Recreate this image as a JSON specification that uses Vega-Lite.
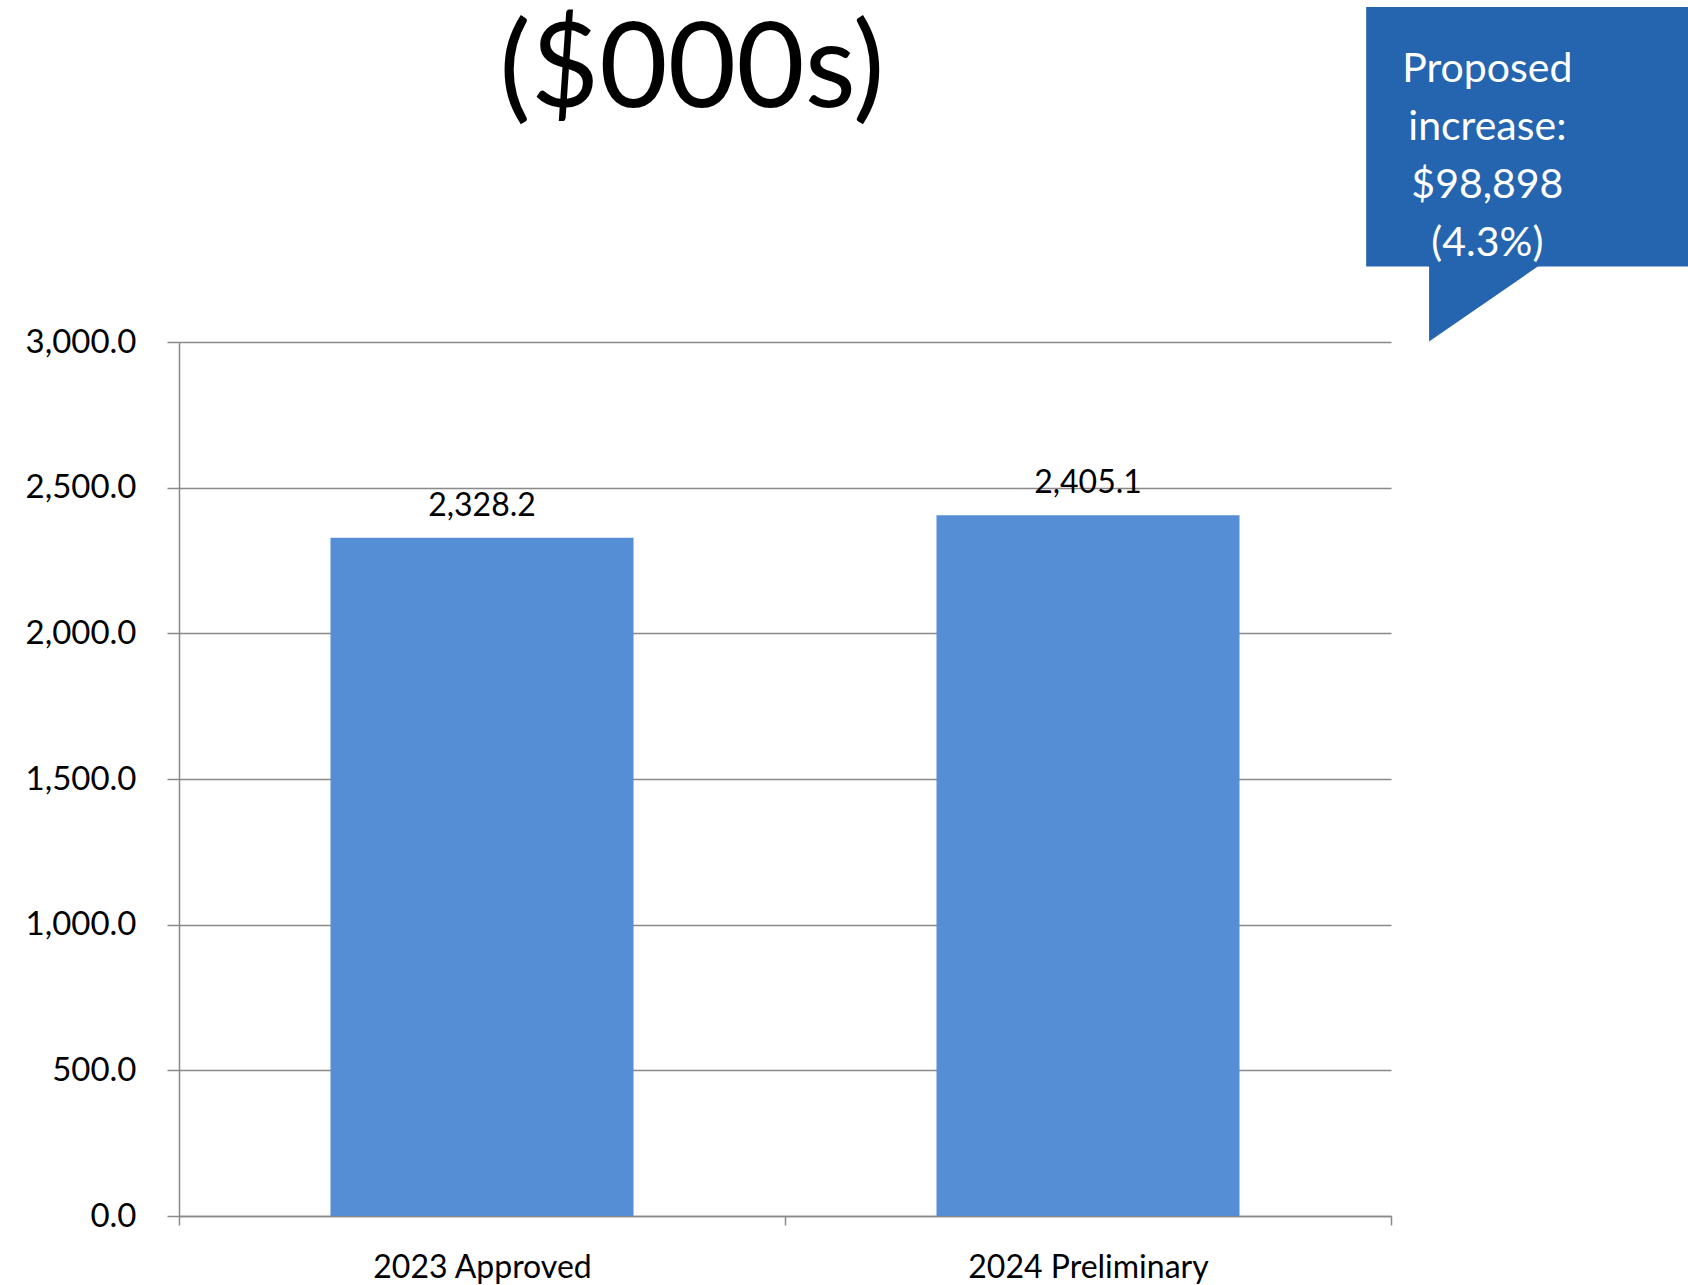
{
  "$schema": "https://vega.github.io/schema/vega-lite/v6.json",
  "width": 1212,
  "height": 874,
  "autosize": {"type": "none"},
  "padding": {"left": 179, "top": 342, "right": 297, "bottom": 69},
  "background": "white",
  "config": {"view": {"stroke": null}, "font": "Lato"},
  "title": {"text": "($000s)", "fontSize": 118, "font": "Lato", "fontWeight": "normal", "color": "black", "anchor": "middle", "frame": "group", "dx": -93, "offset": -218, "baseline": "alphabetic"},
  "resolve": {"scale": {"x": "independent", "y": "independent"}, "axis": {"x": "independent", "y": "independent"}},
  "layer": [
    {
      "data": {"values": [
        {"budget": "2023 Approved", "value": 2328.2},
        {"budget": "2024 Preliminary", "value": 2405.1}
      ]},
      "encoding": {
        "x": {"field": "budget", "type": "nominal", "sort": null,
          "scale": {"paddingInner": 0, "paddingOuter": 0},
          "axis": {"title": null, "labelAngle": 0, "labelFontSize": 32, "labelFont": "Lato", "labelColor": "black", "labelLimit": 500, "tickBand": "extent", "tickSize": 9, "labelPadding": 27, "domainColor": "#898989", "domainWidth": 1.5, "tickColor": "#898989", "tickWidth": 1.5, "grid": false}},
        "y": {"field": "value", "type": "quantitative",
          "scale": {"domain": [0, 3000], "nice": false},
          "axis": {"title": null, "values": [0, 500, 1000, 1500, 2000, 2500, 3000], "format": ",.1f", "labelFontSize": 33, "labelFont": "Lato", "labelColor": "black", "grid": true, "gridColor": "#898989", "gridWidth": 1.5, "domainColor": "#898989", "domainWidth": 1.5, "tickColor": "#898989", "tickWidth": 1.5, "tickSize": 12, "labelPadding": 31}}
      },
      "layer": [
        {"mark": {"type": "bar", "color": "#558ED5", "width": {"band": 0.5}}},
        {"mark": {"type": "text", "baseline": "alphabetic", "dy": -22, "fontSize": 32, "font": "Lato", "color": "black"},
          "encoding": {"text": {"field": "value", "type": "quantitative", "format": ",.1f"}}}
      ]
    },
    {
      "data": {"values": [{"note": "Proposed\nincrease:\n$98,898\n(4.3%)"}]},
      "layer": [
        {"mark": {"type": "rect", "color": "#2565AF"},
          "encoding": {
            "x": {"datum": 1.959, "type": "quantitative", "scale": {"domain": [0, 2], "nice": false, "zero": false}, "axis": null},
            "x2": {"datum": 2.6},
            "y": {"datum": 4150, "type": "quantitative", "scale": {"domain": [0, 3000], "nice": false}, "axis": null},
            "y2": {"datum": 3259}
          }},
        {"mark": {"type": "point", "filled": true, "color": "#2565AF", "opacity": 1, "strokeWidth": 0, "shape": "M -1 -0.66 L 0.87 -0.66 L -1 0.63 Z", "size": 14161},
          "encoding": {
            "x": {"datum": 2.161, "type": "quantitative"},
            "y": {"datum": 3130, "type": "quantitative"}
          }},
        {"mark": {"type": "text", "align": "center", "baseline": "middle", "fontSize": 41, "font": "Lato", "color": "white", "lineBreak": "\n", "lineHeight": 58},
          "encoding": {
            "x": {"datum": 2.159, "type": "quantitative"},
            "y": {"datum": 3935, "type": "quantitative"},
            "text": {"field": "note", "type": "nominal"}
          }}
      ]
    }
  ]
}
